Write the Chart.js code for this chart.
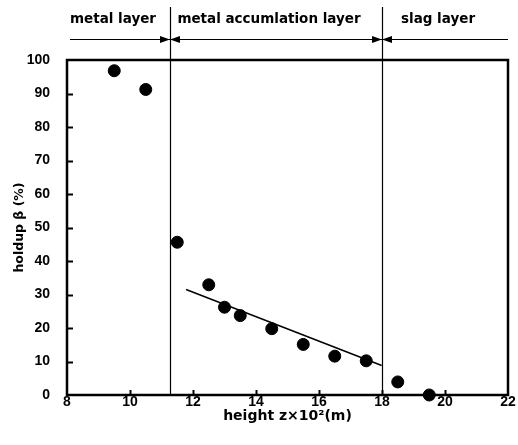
<!DOCTYPE html>
<html>
<head>
<meta charset="utf-8">
<script src="https://cdn.jsdelivr.net/npm/chart.js@4.4.1/dist/chart.umd.min.js"></script>
<style>
html, body { margin: 0; padding: 0; background: #fff; }
</style>
</head>
<body>
<canvas id="myChart" width="518" height="445"></canvas>
<script>
// measured holdup points
const heightZ = [9.5, 10.5, 11.5, 12.5, 13.0, 13.5, 14.5, 15.5, 16.5, 17.5, 18.5, 19.5];
const holdup = [96.8, 91.2, 45.6, 32.9, 26.2, 23.7, 19.8, 15.1, 11.6, 10.2, 3.9, 0];
// fitted line in the accumulation layer
const fitZ = [11.78, 17.99];
const fitHoldup = [31.5, 8.8];
// layer boundaries (x values)
const boundaries = [11.27, 18];
const layerNames = ["metal layer", "metal accumlation layer", "slag layer"];
const xTickStep = 2;
const yTickStep = 10;

const pointData = heightZ.map((z, i) => ({x: z, y: holdup[i]}));
const fitData = fitZ.map((z, i) => ({x: z, y: fitHoldup[i]}));

function arrowHead(ctx, tipX, y, dir) {
    ctx.beginPath();
    ctx.moveTo(tipX, y);
    ctx.lineTo(tipX - dir * 10, y - 3.5);
    ctx.lineTo(tipX - dir * 10, y + 3.5);
    ctx.closePath();
    ctx.fill();
}

const framePlugin = {
    id: 'frame',
    afterDraw(chart) {
        const ctx = chart.ctx;
        const area = chart.chartArea;
        const xs = chart.scales.x;
        const ys = chart.scales.y;
        ctx.save();
        ctx.strokeStyle = '#000';
        ctx.fillStyle = '#000';

        // layer boundaries
        ctx.lineWidth = 1.2;
        boundaries.forEach(b => {
            const px = Math.round(xs.getPixelForValue(b)) + 0.5;
            ctx.beginPath();
            ctx.moveTo(px, 7);
            ctx.lineTo(px, area.bottom);
            ctx.stroke();
        });

        // arrows over the plot
        const ay = 39.5;
        const edges = [area.left + 3].concat(boundaries.map(b => xs.getPixelForValue(b))).concat([area.right]);
        ctx.lineWidth = 1.2;
        for (let i = 0; i < edges.length - 1; i++) {
            const x0 = edges[i], x1 = edges[i + 1];
            ctx.beginPath();
            ctx.moveTo(x0, ay);
            ctx.lineTo(x1, ay);
            ctx.stroke();
            if (i > 0) arrowHead(ctx, x0, ay, -1);
            if (i < edges.length - 2) arrowHead(ctx, x1, ay, 1);
        }

        // layer names
        ctx.font = 'bold 13.5px "DejaVu Sans"';
        ctx.textAlign = 'center';
        ctx.textBaseline = 'middle';
        layerNames.forEach((name, i) => {
            ctx.fillText(name, (edges[i] + edges[i + 1]) / 2 - 7, 19);
        });

        // inward ticks
        ctx.lineWidth = 2;
        ys.ticks.forEach(t => {
            if (t.value <= ys.min || t.value >= ys.max) return;
            const py = Math.round(ys.getPixelForValue(t.value)) + 0.5;
            ctx.beginPath();
            ctx.moveTo(area.left, py);
            ctx.lineTo(area.left + 6, py);
            ctx.stroke();
        });
        xs.ticks.forEach(t => {
            if (t.value <= xs.min || t.value >= xs.max) return;
            const px = Math.round(xs.getPixelForValue(t.value)) + 0.5;
            ctx.beginPath();
            ctx.moveTo(px, area.bottom);
            ctx.lineTo(px, area.bottom - 5);
            ctx.stroke();
        });

        // frame
        ctx.lineWidth = 2.5;
        ctx.strokeRect(area.left, area.top, area.right - area.left, area.bottom - area.top);
        ctx.restore();
    }
};

const tickFont = {family: 'Liberation Sans', weight: 'bold', size: 14};

const config = {
    type: 'scatter',
    data: {
        datasets: [
            {
                label: 'holdup',
                data: pointData,
                backgroundColor: '#000',
                borderColor: '#000',
                pointRadius: 6,
                pointHoverRadius: 6,
                clip: false
            },
            {
                type: 'line',
                label: 'fit',
                data: fitData,
                borderColor: '#000',
                borderWidth: 1.5,
                pointRadius: 0,
                fill: false
            }
        ]
    },
    options: {
        responsive: false,
        animation: false,
        devicePixelRatio: 1,
        layout: {padding: {top: 60, right: 10, left: 0, bottom: 0}},
        plugins: {
            legend: {display: false},
            tooltip: {enabled: false}
        },
        scales: {
            x: {
                type: 'linear',
                min: 8,
                max: 22,
                grid: {display: false, drawTicks: false},
                border: {display: false},
                ticks: {
                    stepSize: xTickStep,
                    color: '#000',
                    padding: -1,
                    font: tickFont
                },
                title: {
                    display: true,
                    text: 'height z\u00d710\u00b2(m)',
                    color: '#000',
                    padding: {top: 0, bottom: 20},
                    font: {family: 'DejaVu Sans', weight: 'bold', size: 14}
                },
                afterFit(scale) { scale.height = 50; }
            },
            y: {
                type: 'linear',
                min: 0,
                max: 100,
                grid: {display: false, drawTicks: false},
                border: {display: false},
                ticks: {
                    stepSize: yTickStep,
                    color: '#000',
                    padding: 17,
                    font: tickFont
                },
                title: {
                    display: true,
                    text: 'holdup \u03b2 (%)',
                    color: '#000',
                    padding: {top: 12, bottom: 0},
                    font: {family: 'DejaVu Sans', weight: 'bold', size: 12.5}
                },
                afterFit(scale) { scale.width = 67; }
            }
        }
    },
    plugins: [framePlugin]
};

new Chart(document.getElementById('myChart'), config);
</script>
</body>
</html>
